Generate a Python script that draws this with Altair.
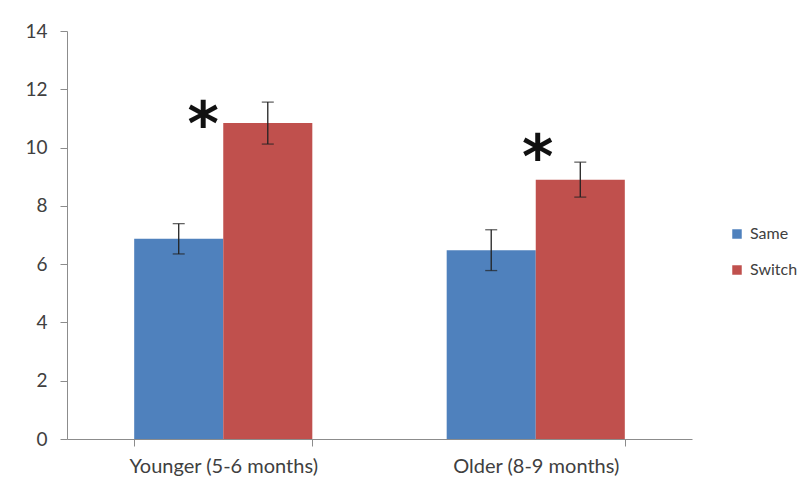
import altair as alt
import pandas as pd

groups = ["Younger (5-6 months)", "Older (8-9 months)"]
series = ["Same", "Switch"]
same_means = [6.87, 6.48]
switch_means = [10.84, 8.90]
same_errs = [0.52, 0.70]
switch_errs = [0.72, 0.60]
star_y = [10.1, 8.95]

rows = []
for i, g in enumerate(groups):
    rows.append({"group": g, "series": "Same", "value": same_means[i], "err": same_errs[i]})
    rows.append({"group": g, "series": "Switch", "value": switch_means[i], "err": switch_errs[i]})
df = pd.DataFrame(rows)
df["lo"] = df["value"] - df["err"]
df["hi"] = df["value"] + df["err"]

star_df = pd.DataFrame({"group": groups, "y": star_y})

FONT = "Lato"
AXIS_GRAY = "#8c8c8c"
LABEL_GRAY = "#404040"

xenc = alt.X(
    "group:N", sort=groups,
    scale=alt.Scale(paddingInner=0.43, paddingOuter=0.215),
    axis=alt.Axis(title=None, labelAngle=0, labelFontSize=20, labelColor=LABEL_GRAY,
                  labelFont=FONT, domainColor=AXIS_GRAY, tickColor=AXIS_GRAY,
                  tickBand="extent", tickSize=7, labelPadding=10, labelLimit=0),
)
xoff = alt.XOffset("series:N", sort=series, scale=alt.Scale(paddingInner=0, paddingOuter=0))

yscale = alt.Scale(domain=[0, 14], nice=False)

base = alt.Chart(df).encode(x=xenc, xOffset=xoff)

bars = base.mark_bar().encode(
    y=alt.Y("value:Q", scale=yscale,
            axis=alt.Axis(title=None, values=list(range(0, 15, 2)), grid=False,
                          tickSize=7, labelPadding=13, labelFontSize=19,
                          labelColor=LABEL_GRAY, labelFont=FONT,
                          domainColor=AXIS_GRAY, tickColor=AXIS_GRAY)),
    color=alt.Color("series:N", scale=alt.Scale(domain=series, range=["#4F81BD", "#C0504D"]),
                    legend=alt.Legend(title=None, orient="none", legendX=662, legendY=195,
                                      padding=0, symbolType="square", symbolSize=90,
                                      symbolStrokeWidth=0,
                                      labelFontSize=16, labelFont=FONT, labelColor=LABEL_GRAY,
                                      rowPadding=20, labelOffset=5, labelLimit=0)),
)

ecolor = "#222222"
rules = base.mark_rule(color=ecolor, strokeWidth=1.3).encode(y=alt.Y("lo:Q", scale=yscale), y2="hi:Q")
caps_lo = base.mark_tick(color=ecolor, thickness=1.3, size=12, orient="horizontal").encode(
    y=alt.Y("lo:Q", scale=yscale))
caps_hi = base.mark_tick(color=ecolor, thickness=1.3, size=12, orient="horizontal").encode(
    y=alt.Y("hi:Q", scale=yscale))

star_base = alt.Chart(star_df).encode(x=alt.X("group:N", sort=groups), y=alt.Y("y:Q", scale=yscale))
star_style = dict(text="*", font="DejaVu Sans", fontWeight="bold", fontSize=60, color="#111111",
                  baseline="alphabetic", align="center")
star1 = star_base.transform_filter(alt.datum.group == groups[0]).mark_text(dx=-20, **star_style)
star2 = star_base.transform_filter(alt.datum.group == groups[1]).mark_text(dx=2, **star_style)

chart = alt.layer(bars, rules, caps_lo, caps_hi, star1, star2).properties(
    width=625, height=408,
    autosize=alt.AutoSizeParams(type="none"),
    padding={"left": 59, "top": 23, "right": 110, "bottom": 45},
    background="white",
).configure_view(stroke=None)

chart.save("out.html", embed_options={"renderer": "svg", "actions": False})
